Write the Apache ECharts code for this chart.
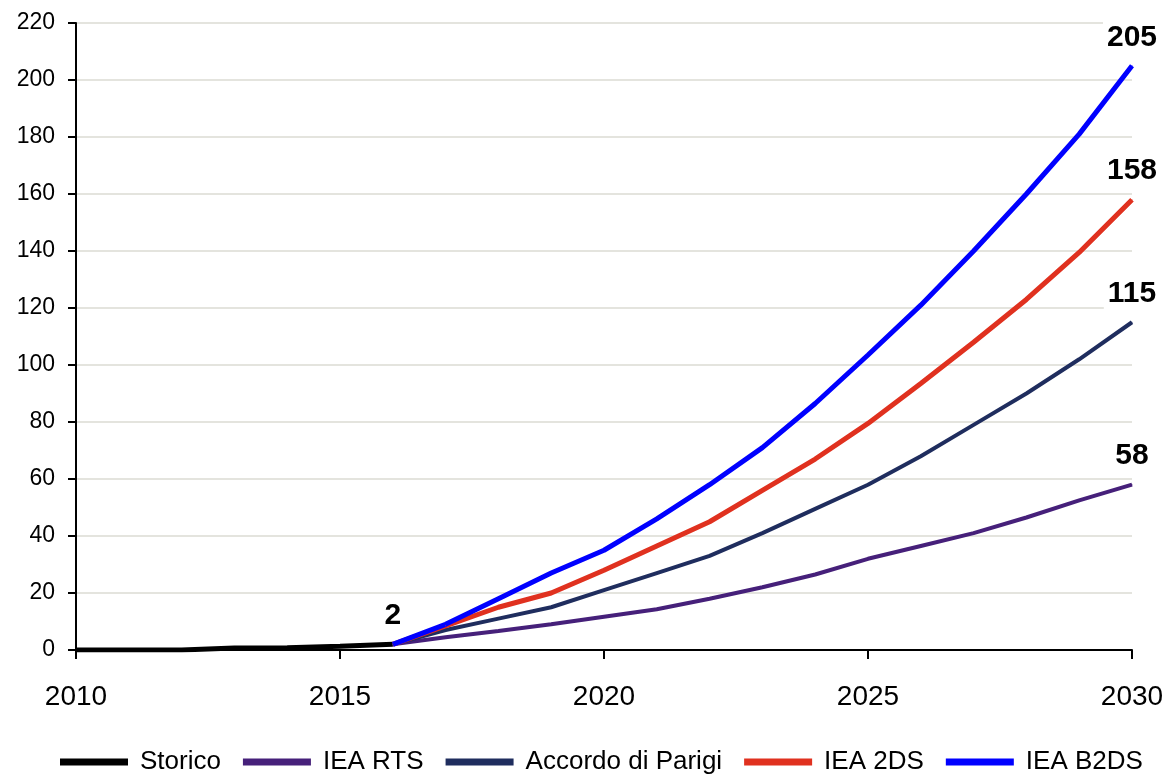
<!DOCTYPE html>
<html>
<head>
<meta charset="utf-8">
<script src="https://cdn.jsdelivr.net/npm/echarts@6/dist/echarts.min.js"></script>
<style>
html,body{margin:0;padding:0;background:#fff;}
#chart{width:1169px;height:775px;}
</style>
</head>
<body>
<div id="chart"></div>
<script>
// ---- Data ----
const histYears = [2010, 2011, 2012, 2013, 2014, 2015, 2016];
const storico   = [0, 0, 0, 0.7, 0.8, 1.3, 2];

const projYears = [2016, 2017, 2018, 2019, 2020, 2021, 2022, 2023, 2024, 2025, 2026, 2027, 2028, 2029, 2030];
const ieaRTS    = [2, 4.5, 6.7, 9, 11.7, 14.3, 18, 22, 26.5, 32, 36.5, 41, 46.5, 52.5, 58];
const parigi    = [2, 7, 11, 15, 21, 27, 33, 41, 49.5, 58, 68, 79, 90, 102, 115];
const iea2DS    = [2, 8.5, 15, 20, 28, 36.5, 45, 56, 67, 79.5, 93.5, 108, 123, 139.5, 158];
const ieaB2DS   = [2, 9, 18, 27, 35, 46, 58, 71, 86.5, 103.5, 121, 140, 160, 181, 205];

const seriesNames = ['Storico', 'IEA RTS', 'Accordo di Parigi', 'IEA 2DS', 'IEA B2DS'];
const yTicks = { min: 0, max: 220, step: 20 };
const xTicks = { min: 2010, max: 2030, step: 5 };

// ---- Helpers ----
const FONT = '"Liberation Sans", Arial, Helvetica, sans-serif';
const endLabel = {
  show: true, position: 'top', distance: 11,
  formatter: p => Math.round(p.value[1]).toString(),
  fontFamily: FONT, fontWeight: 'bold', fontSize: 30, color: '#000',
  backgroundColor: '#fff', padding: [2, 4]
};
function build(years, vals) {
  return years.map((y, i) => {
    if (i === years.length - 1) return { value: [y, vals[i]], label: endLabel };
    return { value: [y, vals[i]] };
  });
}
function lineSeries(name, years, vals, color, width) {
  return {
    name, type: 'line', data: build(years, vals),
    symbol: 'circle', symbolSize: 1, showSymbol: true,
    itemStyle: { color },
    lineStyle: { color, width },
    label: { show: false },
    emphasis: { disabled: true },
    z: 2
  };
}

const chart = echarts.init(document.getElementById('chart'), null, { renderer: 'canvas' });
chart.setOption({
  animation: false,
  backgroundColor: '#fff',
  grid: { left: 76, right: 37, top: 23, bottom: 125, containLabel: false },
  legend: {
    data: seriesNames,
    left: 55, top: 744,
    icon: 'rect', itemWidth: 68, itemHeight: 7, itemGap: 22,
    textStyle: { fontFamily: FONT, fontSize: 26, color: '#000', padding: [0, 0, 0, 7] }
  },
  xAxis: {
    type: 'value', min: xTicks.min, max: xTicks.max, interval: xTicks.step,
    axisLine: { show: true, onZero: false, lineStyle: { color: '#000', width: 2 } },
    axisTick: { show: true, inside: false, length: 9, lineStyle: { color: '#000', width: 2 } },
    axisLabel: { fontFamily: FONT, fontSize: 28, color: '#000', margin: 33, formatter: v => String(v) },
    splitLine: { show: false }
  },
  yAxis: {
    type: 'value', min: yTicks.min, max: yTicks.max, interval: yTicks.step,
    axisLine: { show: true, lineStyle: { color: '#000', width: 2 } },
    axisTick: { show: true, inside: false, length: 8, lineStyle: { color: '#000', width: 2 } },
    axisLabel: { fontFamily: FONT, fontSize: 23, color: '#000', margin: 21 },
    splitLine: { show: true, lineStyle: { color: '#e4e4de', width: 2 } }
  },
  series: [
    lineSeries('Storico', histYears, storico, '#000000', 5),
    lineSeries('IEA RTS', projYears, ieaRTS, '#46207a', 4),
    lineSeries('Accordo di Parigi', projYears, parigi, '#1f2d5e', 4),
    lineSeries('IEA 2DS', projYears, iea2DS, '#e0311f', 5),
    lineSeries('IEA B2DS', projYears, ieaB2DS, '#0000ff', 5)
  ]
});
</script>
</body>
</html>
